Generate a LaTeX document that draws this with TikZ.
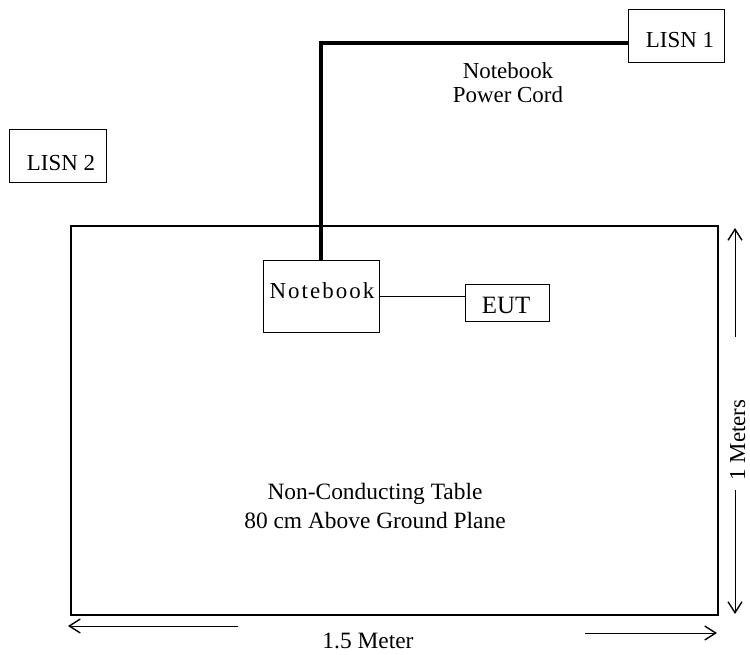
\documentclass[tikz,border=0pt]{standalone}
\usepackage{fontspec}
\setmainfont{Liberation Serif}
\usetikzlibrary{arrows.meta}
\tikzset{
  box/.style={draw, line width=0.9bp, inner sep=0pt},
  lbl/.style={font=\fontsize{23}{25}\selectfont, align=center, inner sep=0pt},
  big/.style={font=\fontsize{23.5}{28.5}\selectfont, align=center, inner sep=0pt},
  dim/.style={line width=0.8bp, -{Straight Barb[length=11bp,width=14bp,line width=1.4bp]}},
}
\begin{document}
\begin{tikzpicture}[x=1bp, y=-1bp]
\useasboundingbox (0,0) rectangle (750,655);
% table
\node[draw, line width=2.2bp, minimum width=647bp, minimum height=389bp, inner sep=0pt, anchor=north west] (table) at (70,225) {};
\node[big, anchor=base] (tabletxt) at (375,528) {Non-Conducting Table\\80 cm Above Ground Plane};
% LISN boxes
\node[box, minimum width=96bp, minimum height=53bp] (lisn1) at (676,36) {};
\node[lbl, anchor=base] (lisn1t) at (680,48) {LISN 1};
\node[box, minimum width=97bp, minimum height=53bp] (lisn2) at (57.5,155.5) {};
\node[lbl, anchor=base] (lisn2t) at (61,170) {LISN 2};
% notebook
\node[box, minimum width=116bp, minimum height=72bp] (nb) at (321,296) {};
\node[lbl, anchor=base] (nbt) at (322,298) {\addfontfeature{LetterSpace=9}Notebook};
% EUT
\node[box, minimum width=84bp, minimum height=37bp] (eut) at (507,302.5) {};
\node[font=\fontsize{25}{30}\selectfont, inner sep=0pt, anchor=base] (eutt) at (506,313) {EUT};
% power cord
\coordinate (corner) at (321,43);
\draw[line width=4bp] (nb.north) -- (corner) -- (corner -| lisn1.west);
\node[lbl, anchor=base] (cordt) at (508,103) {Notebook\\Power Cord};
% notebook to EUT
\draw[line width=0.9bp] (nb.east |- 0,296) -- (eut.west |- 0,296);
% vertical dimension
\node[font=\fontsize{23}{28}\selectfont, inner sep=0pt, rotate=90, anchor=base] (vdim) at (745,440) {1 Meters};
\coordinate (vtop) at (735,228);
\coordinate (vbot) at (735,614);
\draw[dim] (735,337) -- (vtop);
\draw[dim] (735,490) -- (vbot);
% horizontal dimension
\node[big, anchor=base] (hdim) at (368,648) {1.5 Meter};
\coordinate (hl) at (68,626);
\coordinate (hr) at (717,633);
\draw[dim] (238,626) -- (hl);
\draw[dim] (585,633) -- (hr);
\end{tikzpicture}
\end{document}
